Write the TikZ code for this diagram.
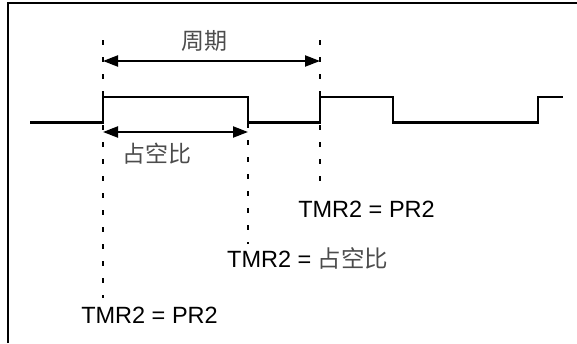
\documentclass[tikz,border=0pt]{standalone}
\usepackage{fontspec}
\setmainfont{Liberation Sans}
\newfontfamily\cjk{Noto Sans CJK SC}
\usetikzlibrary{arrows.meta}
\begin{document}
\begin{tikzpicture}[x=1pt,y=-1pt,
  frameline/.style={line width=2.6pt},
  signal/.style={line width=2.6pt, line join=miter},
  guide/.style={line width=2.4pt, dash pattern=on 5pt off 12pt},
  span/.style={line width=2.2pt, {Triangle[length=15pt,width=11pt]}-{Triangle[length=15pt,width=11pt]}},
  lbl/.style={inner sep=0pt, font=\fontsize{23.5}{26}\selectfont},
  cjklbl/.style={inner sep=0pt, text=black!70, font=\fontsize{23}{26}\selectfont\cjk}]
\useasboundingbox (0,0) rectangle (577,343);
% frame
\coordinate (fb) at (8,343);
\coordinate (fc) at (8,3);
\coordinate (fr) at (577,3);
\draw[frameline] (fb) -- (fc) -- (fr);
% signal
\draw[signal] (30,122.5) -- (103,122.5) -- (103,97) -- (248,97) -- (248,122.5)
  -- (320,122.5) -- (320,97) -- (393,97) -- (393,122.5) -- (538,122.5) -- (538,97) -- (563,97);
% labels
\node[lbl, anchor=base] (l1) at (149.5,323) {TMR2 = PR2};
\node[lbl, anchor=base] (l3) at (366.5,217) {TMR2 = PR2};
\node[lbl, anchor=base west] (l2) at (227,267) {TMR2 = {\cjk\color{black!70}占空比}};
\node[cjklbl] (per) at (204,41) {周期};
\node[cjklbl] (duty) at (156.5,153.5) {占空比};
% guide lines
\coordinate (g1) at (103,40);
\coordinate (g2) at (248,123);
\coordinate (g3) at (320,40);
\coordinate (g1e) at (103,298);
\coordinate (g2e) at (248,244);
\coordinate (g3e) at (320,190);
\draw[guide] (g1) -- (g1e);
\draw[guide] (g2) -- (g2e);
\draw[guide] (g3) -- (g3e);
% span arrows
\coordinate (pa) at (103,61);
\coordinate (pb) at (320,61);
\coordinate (da) at (103,132);
\coordinate (db) at (248,132);
\draw[span] (pa) -- (pb);
\draw[span] (da) -- (db);
\end{tikzpicture}
\end{document}
